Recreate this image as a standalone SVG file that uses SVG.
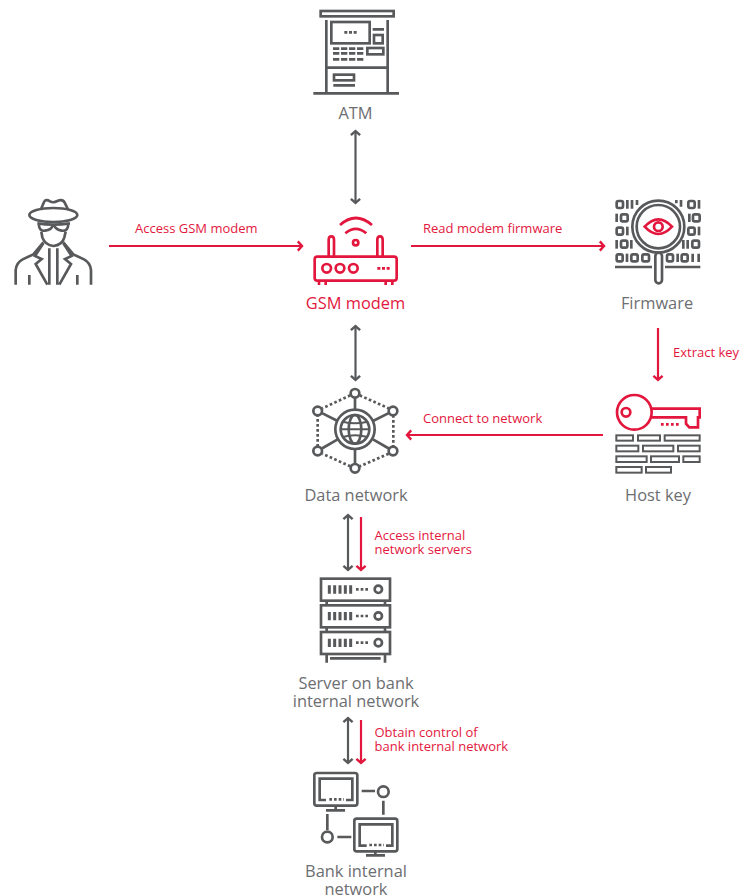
<svg xmlns="http://www.w3.org/2000/svg" width="741" height="896" viewBox="0 0 741 896">
<style>
text{font-family:"Open Sans","Noto Sans","Liberation Sans",sans-serif}
.lb{font-size:16.400px;fill:#6d6e71;text-anchor:middle}
.lbr{font-size:16.400px;fill:#e3173e;text-anchor:middle}
.cl{font-size:13px;fill:#e3173e}
.g{fill:none;stroke:#58595b;stroke-width:8}
.r{fill:none;stroke:#e3173e;stroke-width:8}
.d{stroke-dasharray:8 7}
.cg{fill:none;stroke:#58595b;stroke-width:2.200}
.cr{fill:none;stroke:#e3173e;stroke-width:2.200}
.b{stroke-width:6}
</style>
<defs>
<marker id="ag" markerUnits="userSpaceOnUse" markerWidth="14" markerHeight="14" refX="7" refY="7" orient="auto-start-reverse"><path d="M2.800 2.400L7 7L2.800 11.600" fill="none" stroke="#58595b" stroke-width="2.400"/></marker>
<marker id="ar" markerUnits="userSpaceOnUse" markerWidth="14" markerHeight="14" refX="7" refY="7" orient="auto"><path d="M2.800 2.400L7 7L2.800 11.600" fill="none" stroke="#e3173e" stroke-width="2.400"/></marker>
</defs>
<g id="connectors">
<path class="cg" d="M355.500 131V203" marker-start="url(#ag)" marker-end="url(#ag)"/>
<path class="cg" d="M355.500 326V380" marker-start="url(#ag)" marker-end="url(#ag)"/>
<path class="cg" d="M348 515V570" marker-start="url(#ag)" marker-end="url(#ag)"/>
<path class="cg" d="M348 718V763" marker-start="url(#ag)" marker-end="url(#ag)"/>
<path class="cr" d="M109 246H302" marker-end="url(#ar)"/>
<path class="cr" d="M411 246H604" marker-end="url(#ar)"/>
<path class="cr" d="M658 328V380" marker-end="url(#ar)"/>
<path class="cr" d="M603 435H407" marker-end="url(#ar)"/>
<path class="cr" d="M361 517V570" marker-end="url(#ar)"/>
<path class="cr" d="M361 720V763" marker-end="url(#ar)"/>
<text class="cl" x="135" y="233">Access GSM modem</text>
<text class="cl" x="423" y="233">Read modem firmware</text>
<text class="cl" x="673" y="357">Extract key</text>
<text class="cl" x="423" y="423">Connect to network</text>
<text class="cl" x="374.500" y="540">Access internal</text>
<text class="cl" x="374.500" y="554">network servers</text>
<text class="cl" x="374.500" y="737">Obtain control of</text>
<text class="cl" x="374.500" y="751">bank internal network</text>
</g>
<g id="atm">
<g transform="translate(300 0) scale(.33333)">
<rect class="g" x="62" y="33" width="219" height="16"/>
<path class="g" d="M79 60V280M263 60V280M40 280H297M79 203H263M218 88H252M100 256H165"/>
<rect class="g" x="94" y="66" width="115" height="64"/>
<rect class="g" x="222" y="105" width="26" height="25"/>
<rect class="g" x="202" y="144" width="48" height="19"/>
<rect class="g" x="102" y="224" width="60" height="17"/>
<path class="g" stroke-dasharray="9 5" d="M133 97H171"/>
<path class="g" stroke-dasharray="19 5" d="M99 146H190M99 160H190M99 178H190"/>
</g>
<text class="lb" x="355.500" y="119">ATM</text>
</g>
<g id="attacker">
<g transform="translate(0 190) scale(.33333)">
<path class="g" d="M122 60L132 36Q137 26 150 34Q160 40 172 33Q188 26 194 38L205 60"/>
<ellipse class="g" cx="160" cy="75" rx="72" ry="21"/>
<path class="g" d="M112 100Q160 108 210 100M116 102Q118 125 135 122Q155 120 158 106M162 106Q168 120 185 122Q204 125 205 102"/>
<path class="g" d="M124 125L127 142Q135 165 160 168Q187 165 193 142L197 125"/>
<path class="g" d="M47 284V240Q49 218 68 208L100 193L130 157M273 284V240Q271 218 252 208L220 193L190 157"/>
<path class="g" d="M130 160L105 198L125 207L107 222L142 284M190 160L215 198L195 207L213 222L178 284M148 175V284M172 175V284"/>
<path class="g" d="M88 255V284M232 255V284"/>
</g>
</g>
<g id="gsm-modem">
<g transform="translate(295 205) scale(.33333)">
<rect class="r" x="59" y="155" width="246" height="72" rx="8"/>
<path class="r" d="M72 228V240M92 228V240M272 228V240M292 228V240"/>
<path class="r" d="M101 155V104Q101 94 109 94Q117 94 117 104V155M247 155V104Q247 94 255 94Q263 94 263 104V155"/>
<circle class="r" cx="95" cy="190" r="13"/><circle class="r" cx="135" cy="190" r="13"/><circle class="r" cx="175" cy="190" r="13"/>
<path class="r" stroke-dasharray="9 5" d="M247 190H289"/>
<circle class="r" cx="182" cy="113" r="8"/>
<path class="r" d="M151 85Q182 58 214 85M135 60Q182 18 231 60"/>
</g>
<text class="lbr" x="355.500" y="308.500">GSM modem</text>
</g>
<g id="firmware">
<g transform="translate(600 190) scale(.33333)">
<g id="bits" class="g">
<rect x="50" y="33" width="19" height="21" rx="5"/><path d="M82 30V56M96 30V56M111 30V45"/>
<path d="M229 30V40M243 30V50"/><rect x="265" y="33" width="19" height="21" rx="5"/><path d="M297 30V56"/>
<path d="M50 71V96"/><rect x="63" y="73" width="20" height="21" rx="5"/>
<path d="M268 71V96"/><rect x="279" y="73" width="20" height="21" rx="5"/>
<rect x="50" y="113" width="19" height="21" rx="5"/><path d="M82 110V136"/>
<rect x="265" y="113" width="19" height="21" rx="5"/><path d="M297 110V136"/>
<path d="M50 150V176"/><rect x="63" y="152" width="19" height="21" rx="5"/><path d="M94 150V176"/>
<path d="M250 150V176M263 150V176"/><rect x="277" y="152" width="20" height="21" rx="5"/>
<rect x="50" y="193" width="18" height="21" rx="5"/><path d="M81 191V216"/><rect x="94" y="193" width="19" height="21" rx="5"/><rect x="127" y="193" width="20" height="21" rx="5"/>
<rect x="201" y="193" width="18" height="21" rx="5"/><path d="M233 191V216"/><rect x="245" y="193" width="18" height="21" rx="5"/><path d="M278 191V216M296 191V216"/>
<path d="M45 231H156M195 231H301"/>
</g>
<circle cx="175" cy="110" r="78" fill="#fff" stroke="#58595b" stroke-width="8"/>
<circle class="g" cx="175" cy="110" r="65"/>
<rect class="g" x="166" y="188" width="20" height="92" rx="10"/>
<path class="r" d="M134 110Q175 66 216 110Q175 154 134 110Z"/>
<circle class="r" cx="175" cy="110" r="13"/>
</g>
<text class="lb" x="657" y="308.500">Firmware</text>
</g>
<g id="host-key">
<g transform="translate(600 385) scale(.33333)">
<path class="r" d="M152 71H299V97H294L294 127H268L258 116V97H155"/>
<circle class="r" cx="103" cy="82" r="52"/>
<circle class="r" cx="78" cy="82" r="13"/>
<path class="r" stroke-dasharray="8 7" d="M183 118H242"/>
<rect class="g b" x="49" y="151" width="50" height="16"/><rect class="g b" x="114" y="151" width="66" height="16"/><rect class="g b" x="194" y="151" width="105" height="16"/>
<rect class="g b" x="49" y="182" width="66" height="17"/><rect class="g b" x="129" y="182" width="91" height="17"/><rect class="g b" x="234" y="182" width="65" height="17"/>
<rect class="g b" x="49" y="214" width="91" height="17"/><rect class="g b" x="153" y="214" width="84" height="17"/><rect class="g b" x="250" y="214" width="49" height="17"/>
<rect class="g b" x="49" y="246" width="76" height="17"/><rect class="g b" x="138" y="246" width="75" height="17"/>
</g>
<text class="lb" x="658" y="500.500">Host key</text>
</g>
<g id="data-network">
<g transform="translate(295 380) scale(.33333)">
<path class="g d" d="M166 46L82 85M194 46L281 85M295 105V200M281 221L194 259M166 259L82 221M68 200V105"/>
<path class="g" d="M180 53V88M180 208V252M284 98L234 123M284 207L234 178M78 98L128 123M78 207L128 178"/>
<circle class="g" cx="180" cy="40" r="13"/><circle class="g" cx="294" cy="93" r="13"/><circle class="g" cx="294" cy="213" r="13"/><circle class="g" cx="180" cy="265" r="13"/><circle class="g" cx="68" cy="213" r="13"/><circle class="g" cx="68" cy="93" r="13"/>
<circle class="g" cx="180" cy="148" r="59"/>
<circle class="g" cx="180" cy="148" r="43"/>
<ellipse class="g" cx="180" cy="148" rx="19" ry="43"/>
<path class="g b" d="M137 148H223M143 125Q180 135 217 125M143 171Q180 161 217 171"/>
</g>
<text class="lb" x="356" y="500.500">Data network</text>
</g>
<g id="server">
<g transform="translate(290 505) scale(.33333)">
<rect class="g" x="93" y="221" width="207" height="66"/><rect class="g" x="93" y="301" width="207" height="66"/><rect class="g" x="93" y="381" width="207" height="66"/>
<path class="g" d="M110 288V300M285 288V300M110 368V380M285 368V380M110 448V473M285 448V473M120 460H272"/>
<path class="g" style="stroke-width:9" d="M118 241V266M134 241V266M150 241V266M166 241V266M182 241V266"/>
<path class="g" stroke-dasharray="8 6" d="M198 253H238"/>
<circle class="g" cx="265" cy="253" r="11"/>
<path class="g" style="stroke-width:9" d="M118 321V346M134 321V346M150 321V346M166 321V346M182 321V346"/>
<path class="g" stroke-dasharray="8 6" d="M198 333H238"/>
<circle class="g" cx="265" cy="333" r="11"/>
<path class="g" style="stroke-width:9" d="M118 401V426M134 401V426M150 401V426M166 401V426M182 401V426"/>
<path class="g" stroke-dasharray="8 6" d="M198 413H238"/>
<circle class="g" cx="265" cy="413" r="11"/>
</g>
<text class="lb" x="356" y="688.500">Server on bank</text>
<text class="lb" x="356" y="706.500">internal network</text>
</g>
<g id="bank-network">
<g transform="translate(290 710) scale(.33333)">
<rect class="g" x="73" y="189" width="129" height="98" rx="7"/>
<path class="g" d="M108 270H89V206H187V270H168"/>
<path class="g" stroke-dasharray="8 6" d="M118 268H162"/>
<path class="g" d="M137 288V301M108 301H165"/>
<rect class="g" x="193" y="326" width="129" height="98" rx="7"/>
<path class="g" d="M230 407H209V343H307V407H288"/>
<path class="g" stroke-dasharray="8 6" d="M238 405H282"/>
<path class="g" d="M256 425V436M228 436H285"/>
<path class="g" d="M215 243H255M280 272V314M112 312V360M142 381H184"/>
<circle class="g" cx="280" cy="245" r="16"/>
<circle class="g" cx="112" cy="381" r="16"/>
</g>
<text class="lb" x="356" y="877">Bank internal</text>
<text class="lb" x="356" y="894.500">network</text>
</g>
</svg>
